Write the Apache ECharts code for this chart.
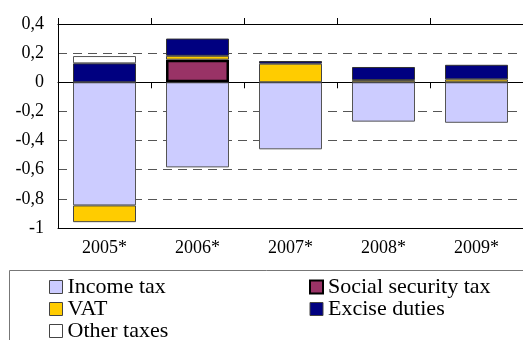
<!DOCTYPE html>
<html><head><meta charset="utf-8">
<script src="https://cdn.jsdelivr.net/npm/echarts@6/dist/echarts.min.js"></script>
<style>html,body{margin:0;padding:0;background:#fff}#c{width:523px;height:340px}</style>
</head><body><div id="c"></div>
<script>
const categories = ['2005*', '2006*', '2007*', '2008*', '2009*'];
const incomeTax = [-0.845, -0.584, -0.46, -0.27, -0.278];
const socialSecurityTax = [null, 0.155, null, null, null];
const vat = [-0.115, 0.027, 0.128, 0.015, 0.02];
const exciseDuties = [0.13, 0.118, 0.018, 0.09, 0.10];
const otherTaxes = [0.05, null, null, null, null];
const yTicks = {min: -1, max: 0.4, interval: 0.2};

const FONT = '"Liberation Serif", "DejaVu Serif", serif';
const chart = echarts.init(document.getElementById('c'), null, {renderer: 'canvas'});
function ser(name, data, color, bc, bw) {
  return {name, type: 'bar', stack: 'all', data, barWidth: 63, xAxisIndex: 0,
    itemStyle: {color, borderColor: bc, borderWidth: bw}};
}
const legText = {fontFamily: FONT, fontSize: 22, color: '#000', lineHeight: 22};
chart.setOption({
  animation: false,
  grid: {left: 58, right: -5, top: 24, bottom: 112, containLabel: false},
  xAxis: [
    {type: 'category', data: categories, position: 'bottom',
     axisLine: {onZero: false, lineStyle: {color: '#000', width: 1}},
     axisTick: {show: false},
     axisLabel: {fontFamily: FONT, fontSize: 18, color: '#000', margin: 11}},
    {type: 'category', data: categories,
     axisLine: {onZero: true, lineStyle: {color: '#000', width: 1}},
     axisTick: {show: true, inside: true, length: 6, lineStyle: {color: '#000'}},
     axisLabel: {show: false}},
    {type: 'category', data: categories,
     axisLine: {onZero: true, lineStyle: {color: '#000', width: 1}},
     axisTick: {show: true, inside: false, length: 6, lineStyle: {color: '#000'}},
     axisLabel: {show: false}},
    {type: 'category', data: categories, position: 'top',
     axisLine: {onZero: false, lineStyle: {color: '#999', width: 1}},
     axisTick: {show: false}, axisLabel: {show: false}, z: -1}
  ],
  yAxis: {type: 'value', min: yTicks.min, max: yTicks.max, interval: yTicks.interval,
    axisLine: {show: true, lineStyle: {color: '#000'}},
    axisTick: {show: false},
    splitLine: {show: true, lineStyle: {color: ['#555','#555','#555','#555','#555','#555','#555','#111'], type: [9, 6], width: 1}},
    axisLabel: {fontFamily: FONT, fontSize: 18, color: '#000', margin: 14,
      formatter: v => String(Number(v.toFixed(1))).replace('.', ',')}},
  legend: [
    {orient: 'vertical', left: 49, top: 276, height: 120, padding: 0, icon: 'rect',
     itemWidth: 13, itemHeight: 13, itemGap: 0, itemStyle: {borderColor: '#444', borderWidth: 1},
     textStyle: legText,
     data: ['Income tax', 'VAT', 'Other taxes']},
    {orient: 'vertical', left: 309, top: 276, height: 120, padding: 0, icon: 'rect',
     itemWidth: 13, itemHeight: 13, itemGap: 0, itemStyle: {borderColor: '#444', borderWidth: 1},
     textStyle: legText,
     data: [{name: 'Social security tax', itemStyle: {borderColor: '#000', borderWidth: 2}}, 'Excise duties']}
  ],
  graphic: [{type: 'rect', shape: {x: 9.5, y: 270.5, width: 530, height: 90},
    style: {fill: 'none', stroke: '#777', lineWidth: 1}, z: -1}],
  series: [
    ser('Income tax', incomeTax, '#CCCCFF', '#555', 1),
    ser('Social security tax', socialSecurityTax, '#993366', '#000', 2.5),
    ser('VAT', vat, '#FFCC00', '#444', 1),
    ser('Excise duties', exciseDuties, '#000080', '#333', 1),
    ser('Other taxes', otherTaxes, '#FFFFFF', '#555', 1)
  ]
});
</script></body></html>
